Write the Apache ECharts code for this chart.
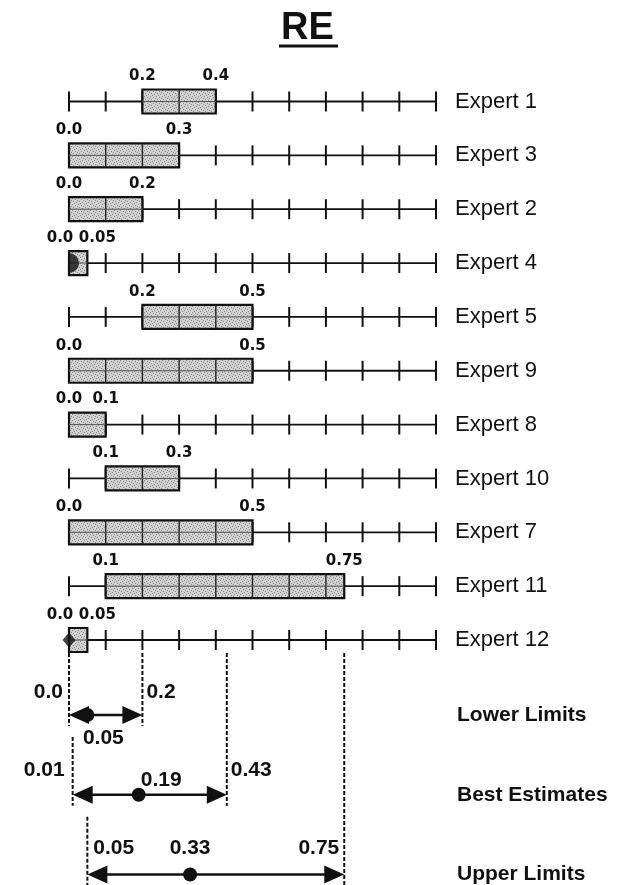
<!DOCTYPE html>
<html><head><meta charset="utf-8">
<script src="https://cdn.jsdelivr.net/npm/echarts@6/dist/echarts.min.js"></script>
<style>html,body{margin:0;padding:0;background:#fff}#c{width:630px;height:885px}</style>
</head><body><div id="c"></div>
<script>
// ---- data ----
const chartTitle = 'RE';
const experts   = ['Expert 1','Expert 3','Expert 2','Expert 4','Expert 5','Expert 9','Expert 8','Expert 10','Expert 7','Expert 11','Expert 12'];
const rangeLow  = [0.2, 0.0, 0.0, 0.0,  0.2, 0.0, 0.0, 0.1, 0.0, 0.1,  0.0];
const rangeHigh = [0.4, 0.3, 0.2, 0.05, 0.5, 0.5, 0.1, 0.3, 0.5, 0.75, 0.05];
const tickValues = [0, 0.1, 0.2, 0.3, 0.4, 0.5, 0.6, 0.7, 0.8, 0.9, 1.0];
const markerExperts = ['Expert 4', 'Expert 12'];
const markerValues  = [0.0, 0.0];
const summaryCats = ['Lower Limits', 'Best Estimates', 'Upper Limits'];
const summaryLow  = [0.0, 0.01, 0.05];
const summaryMid  = [0.05, 0.19, 0.33];
const summaryHigh = [0.2, 0.43, 0.75];

// ---- helpers ----
function fmt(v){ const r = Math.round(v*100); return (r % 10 === 0) ? v.toFixed(1) : v.toFixed(2); }
const pc = document.createElement('canvas'); pc.width = 6; pc.height = 6;
const g = pc.getContext('2d'); g.fillStyle = '#d0d0d0'; g.fillRect(0,0,6,6);
g.fillStyle = '#8c8c8c'; [[0,0],[3,1],[1,3],[4,4],[2,5],[5,2]].forEach(p => g.fillRect(p[0],p[1],1,1));
const boxFill = {image: pc, repeat: 'repeat'};
const INK = '#111';
const smallFont = 'bold 15px "DejaVu Sans", sans-serif';
const sumFont = 'bold 21px "Liberation Sans", Arial, sans-serif';

function txt(text, x, y, align, font){
  return {type:'text', style:{text:text, x:x, y:y, textAlign:align, align:align, textVerticalAlign:'middle', verticalAlign:'middle', font:font, fill:INK}};
}
function seg(x1,y1,x2,y2,lw,stroke,dash){
  const s = {stroke: stroke || INK, lineWidth: lw};
  if (dash) s.lineDash = dash;
  return {type:'line', shape:{x1:x1,y1:y1,x2:x2,y2:y2}, style:s};
}

function renderRow(params, api){
  const row = api.value(0), lo = api.value(1), hi = api.value(2);
  const a = api.coord([0, row]), b = api.coord([1, row]);
  const y = a[1];
  const xl = api.coord([lo, row])[0], xh = api.coord([hi, row])[0];
  const ch = [];
  ch.push(seg(a[0], y, b[0], y, 1.8));
  tickValues.forEach(t => { const x = api.coord([t, row])[0]; ch.push(seg(x, y-10, x, y+10, 2)); });
  ch.push({type:'rect', shape:{x:xl, y:y-12, width:xh-xl, height:24}, style:{fill:boxFill, stroke:INK, lineWidth:2.2}});
  tickValues.forEach(t => {
    if (t > lo + 1e-9 && t < hi - 1e-9){ const x = api.coord([t, row])[0]; ch.push(seg(x, y-12, x, y+12, 1.4, '#222')); }
  });
  ch.push(seg(xl, y, xh, y, 1, '#555'));
  const narrow = (hi - lo) < 0.1;
  ch.push(txt(fmt(lo), xl + (narrow ? -9 : 0), y - 25, 'center', smallFont));
  ch.push(txt(fmt(hi), xh + (narrow ? 10 : 0), y - 25, 'center', smallFont));
  return {type:'group', children: ch};
}

function renderSummary(params, api){
  const i = params.dataIndex;
  const row = api.value(0), lo = api.value(1), mid = api.value(2), hi = api.value(3);
  const y = api.coord([0, row])[1];
  const xl = api.coord([lo, row])[0], xm = api.coord([mid, row])[0], xh = api.coord([hi, row])[0];
  const firstY = api.coord([0, 0])[1];
  const topY = firstY - 62;
  const lowTop = i === 0 ? topY : api.coord([0, row - 1])[1] + 22;
  const dash = [4, 2];
  const ch = [];
  ch.push(seg(xl, lowTop, xl, y + 11, 2, INK, dash));
  ch.push(seg(xh, topY, xh, y + 11, 2, INK, dash));
  ch.push(seg(xl + 10, y, xh - 10, y, 2.5));
  ch.push({type:'polygon', shape:{points:[[xl, y],[xl+20, y-9],[xl+20, y+9]]}, style:{fill:INK}});
  ch.push({type:'polygon', shape:{points:[[xh, y],[xh-20, y-9],[xh-20, y+9]]}, style:{fill:INK}});
  ch.push({type:'circle', shape:{cx:xm, cy:y, r:7}, style:{fill:INK}});
  if (i === 0){
    ch.push(txt(fmt(lo), xl - 6, y - 23, 'right', sumFont));
    ch.push(txt(fmt(hi), xh + 4, y - 23, 'left', sumFont));
    ch.push(txt(fmt(mid), xm + 16, y + 23, 'center', sumFont));
  } else if (i === 1){
    ch.push(txt(fmt(lo), xl - 8, y - 25, 'right', sumFont));
    ch.push(txt(fmt(hi), xh + 4, y - 25, 'left', sumFont));
    ch.push(txt(fmt(mid), xm + 2, y - 15, 'left', sumFont));
  } else {
    ch.push(txt(fmt(lo), xl + 6, y - 26, 'left', sumFont));
    ch.push(txt(fmt(mid), xm, y - 26, 'center', sumFont));
    ch.push(txt(fmt(hi), xh - 5, y - 26, 'right', sumFont));
  }
  return {type:'group', children: ch};
}

const chart = echarts.init(document.getElementById('c'), null, {renderer:'canvas'});
chart.setOption({
  animation: false,
  backgroundColor: '#fff',
  title: {text: chartTitle, left: 281, top: 10, padding: 0,
    textStyle: {fontSize: 38, fontWeight: 'bold', color: INK, fontFamily: '"Liberation Sans", Arial, sans-serif'}},
  graphic: [{type:'line', shape:{x1:279, y1:46, x2:338, y2:46}, style:{stroke:INK, lineWidth:3}}],
  grid: [
    {left: 69, right: 194, top: 101.5, bottom: 245},
    {left: 69, right: 194, top: 715, bottom: 9}
  ],
  xAxis: [
    {type:'value', gridIndex:0, min:0, max:1, show:false},
    {type:'value', gridIndex:1, min:0, max:1, show:false}
  ],
  yAxis: [
    {type:'category', gridIndex:0, data: experts, inverse:true, boundaryGap:false, position:'right',
     axisLine:{show:false}, axisTick:{show:false}, splitLine:{show:false},
     axisLabel:{margin:19, fontSize:22, color:INK, fontFamily:'"Liberation Sans", Arial, sans-serif', align:'left'}},
    {type:'category', gridIndex:1, data: summaryCats, inverse:true, boundaryGap:false, position:'right',
     axisLine:{show:false}, axisTick:{show:false}, splitLine:{show:false},
     axisLabel:{margin:21, fontSize:21, fontWeight:'bold', color:INK, fontFamily:'"Liberation Sans", Arial, sans-serif', align:'left', padding:[0,0,8,0]}}
  ],
  series: [
    {type:'custom', xAxisIndex:0, yAxisIndex:0, clip:false, renderItem: renderRow,
     data: experts.map((e, i) => [i, rangeLow[i], rangeHigh[i]]), encode:{x:[1,2], y:0}},
    {type:'scatter', xAxisIndex:0, yAxisIndex:0, z:5, clip:false,
     data: markerExperts.map((e, i) => [markerValues[i], e]),
     symbol: (v, p) => p.dataIndex === 0 ? 'path://M0,0 A10,10 0 0 1 0,20 Z' : 'diamond',
     symbolSize: (v, p) => p.dataIndex === 0 ? [10, 20] : [13, 15],
     symbolOffset: (v, p) => p.dataIndex === 0 ? [5, 0] : [0, 0],
     itemStyle:{color: INK}},
    {type:'custom', xAxisIndex:1, yAxisIndex:1, clip:false, renderItem: renderSummary,
     data: summaryCats.map((c, i) => [i, summaryLow[i], summaryMid[i], summaryHigh[i]]), encode:{x:[1,2,3], y:0}}
  ]
});
</script>
</body></html>
